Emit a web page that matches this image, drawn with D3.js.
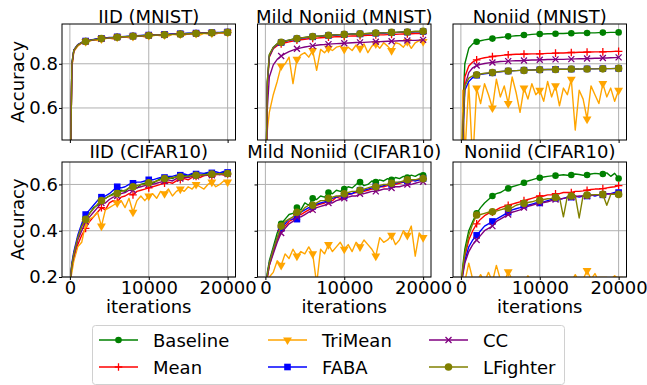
<!DOCTYPE html>
<html>
<head>
<meta charset="utf-8">
<script src="https://cdn.jsdelivr.net/npm/d3@7"></script>
<style>
  body { margin: 0; background: #fff; }
  svg { font-family: "DejaVu Sans", sans-serif; }
</style>
</head>
<body>
<script>
// x values shared by every curve
const iterations = [0, 250, 500,
  1000, 1500, 2000, 2500, 3000, 3500, 4000, 4500, 5000,
  5500, 6000, 6500, 7000, 7500, 8000, 8500, 9000, 9500, 10000,
  10500, 11000, 11500, 12000, 12500, 13000, 13500, 14000, 14500, 15000,
  15500, 16000, 16500, 17000, 17500, 18000, 18500, 19000, 19500, 20000];

const methods = ["Baseline", "Mean", "TriMean", "FABA", "CC", "LFighter"];
const titles = ["IID (MNIST)", "Mild Noniid (MNIST)", "Noniid (MNIST)",
  "IID (CIFAR10)", "Mild Noniid (CIFAR10)", "Noniid (CIFAR10)"];
const xTicks = [0, 10000, 20000];
const yTicksMnist = [0.6, 0.8];
const yTicksCifar = [0.2, 0.4, 0.6];

// ---- IID (MNIST)
const iidMnistBaseline = [0.10, 0.80, 0.862,
  0.886, 0.896, 0.902, 0.906, 0.909, 0.912, 0.914, 0.916, 0.918,
  0.919, 0.921, 0.922, 0.923, 0.924, 0.925, 0.926, 0.927, 0.928, 0.929,
  0.930, 0.931, 0.931, 0.932, 0.933, 0.934, 0.934, 0.935, 0.936, 0.937,
  0.937, 0.938, 0.938, 0.939, 0.940, 0.940, 0.941, 0.941, 0.942, 0.943];
const iidMnistMean = [0.10, 0.79, 0.858,
  0.884, 0.895, 0.901, 0.905, 0.908, 0.911, 0.913, 0.915, 0.917,
  0.918, 0.920, 0.921, 0.922, 0.923, 0.924, 0.925, 0.926, 0.927, 0.928,
  0.929, 0.930, 0.930, 0.931, 0.932, 0.933, 0.933, 0.934, 0.935, 0.936,
  0.936, 0.937, 0.937, 0.938, 0.939, 0.939, 0.940, 0.940, 0.941, 0.942];
const iidMnistTriMean = [0.10, 0.78, 0.855,
  0.880, 0.893, 0.900, 0.903, 0.908, 0.905, 0.913, 0.914, 0.916,
  0.912, 0.920, 0.919, 0.922, 0.917, 0.924, 0.923, 0.926, 0.921, 0.928,
  0.926, 0.930, 0.927, 0.931, 0.925, 0.933, 0.931, 0.934, 0.929, 0.936,
  0.933, 0.937, 0.930, 0.938, 0.935, 0.939, 0.934, 0.940, 0.937, 0.942];
const iidMnistFaba = [0.10, 0.80, 0.863,
  0.887, 0.897, 0.903, 0.907, 0.910, 0.913, 0.915, 0.917, 0.919,
  0.920, 0.922, 0.923, 0.924, 0.925, 0.926, 0.927, 0.928, 0.929, 0.930,
  0.931, 0.932, 0.932, 0.933, 0.934, 0.935, 0.935, 0.936, 0.937, 0.938,
  0.938, 0.939, 0.939, 0.940, 0.941, 0.941, 0.942, 0.942, 0.943, 0.944];
const iidMnistCc = [0.10, 0.79, 0.860,
  0.885, 0.895, 0.901, 0.905, 0.908, 0.911, 0.913, 0.915, 0.917,
  0.918, 0.920, 0.921, 0.922, 0.923, 0.924, 0.925, 0.926, 0.927, 0.928,
  0.929, 0.930, 0.931, 0.931, 0.932, 0.933, 0.934, 0.934, 0.935, 0.936,
  0.937, 0.937, 0.938, 0.938, 0.939, 0.940, 0.940, 0.941, 0.941, 0.942];
const iidMnistLfighter = [0.10, 0.80, 0.861,
  0.885, 0.896, 0.901, 0.905, 0.909, 0.911, 0.914, 0.915, 0.917,
  0.919, 0.920, 0.922, 0.922, 0.924, 0.924, 0.926, 0.926, 0.928, 0.928,
  0.929, 0.930, 0.931, 0.931, 0.932, 0.933, 0.934, 0.934, 0.935, 0.936,
  0.937, 0.937, 0.938, 0.938, 0.939, 0.940, 0.940, 0.941, 0.942, 0.942];

// ---- Mild Noniid (MNIST)
const mildMnistBaseline = [0.10, 0.72, 0.84,
  0.875, 0.890, 0.897, 0.903, 0.907, 0.911, 0.915, 0.917, 0.919,
  0.921, 0.923, 0.925, 0.926, 0.928, 0.929, 0.930, 0.931, 0.932, 0.933,
  0.934, 0.935, 0.935, 0.936, 0.936, 0.937, 0.938, 0.939, 0.940, 0.940,
  0.941, 0.942, 0.942, 0.943, 0.944, 0.944, 0.945, 0.946, 0.946, 0.947];
const mildMnistMean = [0.10, 0.70, 0.83,
  0.868, 0.882, 0.890, 0.895, 0.899, 0.903, 0.907, 0.909, 0.911,
  0.913, 0.915, 0.916, 0.918, 0.919, 0.920, 0.921, 0.923, 0.922, 0.924,
  0.925, 0.926, 0.926, 0.927, 0.928, 0.929, 0.929, 0.930, 0.931, 0.931,
  0.932, 0.933, 0.933, 0.934, 0.935, 0.935, 0.936, 0.937, 0.937, 0.938];
const mildMnistTriMean = [0.10, 0.50, 0.58,
  0.66, 0.72, 0.79, 0.80, 0.83, 0.71, 0.82, 0.84, 0.85,
  0.83, 0.86, 0.77, 0.865, 0.85, 0.87, 0.86, 0.875, 0.88, 0.865,
  0.875, 0.86, 0.885, 0.87, 0.89, 0.85, 0.88, 0.89, 0.87, 0.895,
  0.88, 0.86, 0.895, 0.89, 0.875, 0.90, 0.87, 0.895, 0.905, 0.90];
const mildMnistFaba = [0.10, 0.71, 0.835,
  0.872, 0.888, 0.896, 0.902, 0.906, 0.910, 0.913, 0.916, 0.918,
  0.920, 0.922, 0.924, 0.925, 0.927, 0.928, 0.929, 0.930, 0.931, 0.932,
  0.933, 0.934, 0.934, 0.935, 0.936, 0.936, 0.937, 0.938, 0.939, 0.939,
  0.940, 0.941, 0.941, 0.942, 0.943, 0.943, 0.944, 0.945, 0.945, 0.946];
const mildMnistCc = [0.10, 0.60, 0.74,
  0.795, 0.820, 0.835, 0.846, 0.855, 0.862, 0.868, 0.872, 0.876,
  0.879, 0.881, 0.884, 0.886, 0.887, 0.889, 0.890, 0.891, 0.892, 0.893,
  0.894, 0.895, 0.896, 0.897, 0.897, 0.898, 0.899, 0.900, 0.900, 0.901,
  0.902, 0.902, 0.903, 0.904, 0.904, 0.905, 0.906, 0.906, 0.907, 0.908];
const mildMnistLfighter = [0.10, 0.72, 0.84,
  0.874, 0.890, 0.897, 0.903, 0.907, 0.911, 0.914, 0.917, 0.919,
  0.921, 0.923, 0.924, 0.926, 0.927, 0.929, 0.930, 0.931, 0.932, 0.933,
  0.934, 0.934, 0.935, 0.936, 0.936, 0.937, 0.938, 0.939, 0.939, 0.940,
  0.941, 0.942, 0.942, 0.943, 0.944, 0.944, 0.945, 0.946, 0.946, 0.947];

// ---- Noniid (MNIST)
const noniidMnistBaseline = [0.10, 0.60, 0.80,
  0.870, 0.890, 0.900, 0.904, 0.908, 0.911, 0.914, 0.917, 0.919,
  0.921, 0.924, 0.925, 0.927, 0.928, 0.930, 0.931, 0.933, 0.934, 0.935,
  0.935, 0.936, 0.936, 0.936, 0.937, 0.937, 0.938, 0.938, 0.938, 0.939,
  0.939, 0.939, 0.940, 0.940, 0.941, 0.941, 0.941, 0.942, 0.942, 0.942];
const noniidMnistMean = [0.10, 0.55, 0.74,
  0.790, 0.808, 0.818, 0.823, 0.827, 0.830, 0.833, 0.835, 0.837,
  0.839, 0.841, 0.842, 0.843, 0.843, 0.844, 0.844, 0.845, 0.845, 0.845,
  0.846, 0.847, 0.847, 0.848, 0.849, 0.849, 0.850, 0.851, 0.851, 0.852,
  0.852, 0.853, 0.853, 0.854, 0.854, 0.854, 0.855, 0.855, 0.856, 0.856];
const noniidMnistTriMean = [0.10, 0.68, 0.38,
  0.71, 0.35, 0.69, 0.62, 0.71, 0.66, 0.60, 0.73, 0.65,
  0.70, 0.62, 0.74, 0.67, 0.58, 0.69, 0.64, 0.71, 0.66, 0.68,
  0.63, 0.72, 0.65, 0.70, 0.61, 0.69, 0.66, 0.73, 0.50, 0.68,
  0.64, 0.55, 0.70, 0.66, 0.62, 0.71, 0.65, 0.69, 0.63, 0.68];
const noniidMnistFaba = [0.10, 0.45, 0.68,
  0.720, 0.738, 0.748, 0.752, 0.755, 0.757, 0.759, 0.762, 0.764,
  0.766, 0.767, 0.768, 0.769, 0.770, 0.771, 0.772, 0.772, 0.773, 0.773,
  0.774, 0.774, 0.774, 0.775, 0.775, 0.775, 0.776, 0.776, 0.776, 0.776,
  0.777, 0.777, 0.777, 0.777, 0.778, 0.778, 0.778, 0.778, 0.779, 0.779];
const noniidMnistCc = [0.10, 0.50, 0.70,
  0.760, 0.782, 0.792, 0.797, 0.801, 0.804, 0.806, 0.808, 0.810,
  0.811, 0.812, 0.813, 0.814, 0.814, 0.815, 0.816, 0.817, 0.817, 0.818,
  0.818, 0.819, 0.819, 0.820, 0.820, 0.820, 0.821, 0.821, 0.822, 0.823,
  0.823, 0.824, 0.824, 0.825, 0.825, 0.826, 0.826, 0.827, 0.828, 0.829];
const noniidMnistLfighter = [0.10, 0.50, 0.70,
  0.735, 0.745, 0.750, 0.754, 0.757, 0.759, 0.760, 0.763, 0.765,
  0.766, 0.767, 0.768, 0.769, 0.770, 0.770, 0.771, 0.772, 0.772, 0.773,
  0.773, 0.774, 0.774, 0.774, 0.775, 0.775, 0.775, 0.776, 0.776, 0.776,
  0.776, 0.776, 0.777, 0.777, 0.777, 0.777, 0.778, 0.778, 0.778, 0.779];

// ---- IID (CIFAR10)
const iidCifarBaseline = [0.17, 0.25, 0.30,
  0.37, 0.42, 0.455, 0.475, 0.50, 0.51, 0.535, 0.54, 0.55,
  0.56, 0.565, 0.575, 0.57, 0.585, 0.595, 0.585, 0.60, 0.605, 0.61,
  0.605, 0.615, 0.625, 0.62, 0.63, 0.625, 0.635, 0.63, 0.64, 0.635,
  0.645, 0.64, 0.638, 0.645, 0.65, 0.642, 0.648, 0.645, 0.652, 0.648];
const iidCifarMean = [0.17, 0.24, 0.28,
  0.34, 0.38, 0.41, 0.44, 0.46, 0.48, 0.50, 0.49, 0.52,
  0.53, 0.525, 0.545, 0.55, 0.56, 0.555, 0.57, 0.575, 0.58, 0.585,
  0.59, 0.595, 0.60, 0.605, 0.61, 0.605, 0.615, 0.62, 0.625, 0.62,
  0.63, 0.635, 0.63, 0.638, 0.64, 0.635, 0.642, 0.645, 0.64, 0.645];
const iidCifarTriMean = [0.17, 0.22, 0.27,
  0.33, 0.35, 0.43, 0.45, 0.46, 0.48, 0.42, 0.49, 0.50,
  0.51, 0.52, 0.53, 0.50, 0.54, 0.48, 0.53, 0.55, 0.53, 0.55,
  0.56, 0.54, 0.57, 0.56, 0.58, 0.55, 0.57, 0.58, 0.57, 0.59,
  0.58, 0.60, 0.59, 0.58, 0.60, 0.61, 0.59, 0.60, 0.615, 0.61];
const iidCifarFaba = [0.17, 0.26, 0.31,
  0.38, 0.43, 0.47, 0.49, 0.51, 0.53, 0.545, 0.55, 0.56,
  0.575, 0.59, 0.585, 0.59, 0.60, 0.605, 0.61, 0.61, 0.615, 0.62,
  0.62, 0.625, 0.63, 0.63, 0.635, 0.635, 0.64, 0.64, 0.645, 0.64,
  0.648, 0.645, 0.65, 0.648, 0.652, 0.65, 0.655, 0.65, 0.656, 0.652];
const iidCifarCc = [0.17, 0.25, 0.29,
  0.36, 0.40, 0.44, 0.46, 0.48, 0.50, 0.52, 0.52, 0.535,
  0.545, 0.55, 0.56, 0.565, 0.575, 0.575, 0.585, 0.59, 0.595, 0.60,
  0.60, 0.605, 0.61, 0.615, 0.62, 0.615, 0.625, 0.625, 0.63, 0.63,
  0.635, 0.635, 0.64, 0.638, 0.642, 0.64, 0.645, 0.642, 0.646, 0.645];
const iidCifarLfighter = [0.17, 0.25, 0.30,
  0.37, 0.42, 0.449, 0.475, 0.495, 0.515, 0.53, 0.54, 0.55,
  0.555, 0.561, 0.57, 0.575, 0.585, 0.59, 0.595, 0.60, 0.60, 0.607,
  0.61, 0.615, 0.62, 0.626, 0.625, 0.63, 0.632, 0.633, 0.635, 0.636,
  0.638, 0.64, 0.64, 0.642, 0.643, 0.645, 0.644, 0.646, 0.645, 0.647];

// ---- Mild Noniid (CIFAR10)
const mildCifarBaseline = [0.15, 0.22, 0.27,
  0.33, 0.39, 0.43, 0.45, 0.47, 0.475, 0.50, 0.49, 0.52,
  0.51, 0.54, 0.535, 0.55, 0.545, 0.565, 0.56, 0.575, 0.57, 0.58,
  0.59, 0.585, 0.60, 0.61, 0.595, 0.60, 0.615, 0.61, 0.62, 0.615,
  0.625, 0.62, 0.63, 0.625, 0.635, 0.63, 0.64, 0.635, 0.645, 0.64];
const mildCifarMean = [0.15, 0.20, 0.25,
  0.31, 0.36, 0.40, 0.42, 0.44, 0.45, 0.47, 0.47, 0.48,
  0.49, 0.50, 0.51, 0.515, 0.52, 0.53, 0.53, 0.545, 0.54, 0.55,
  0.555, 0.56, 0.565, 0.57, 0.57, 0.575, 0.58, 0.585, 0.59, 0.59,
  0.595, 0.60, 0.60, 0.605, 0.61, 0.61, 0.615, 0.62, 0.62, 0.625];
const mildCifarTriMean = [0.15, 0.18, 0.20,
  0.22, 0.27, 0.25, 0.30, 0.28, 0.32, 0.29, 0.31, 0.30,
  0.33, 0.30, 0.17, 0.32, 0.30, 0.34, 0.31, 0.33, 0.35, 0.32,
  0.34, 0.31, 0.35, 0.33, 0.36, 0.34, 0.32, 0.29, 0.37, 0.35,
  0.36, 0.38, 0.34, 0.36, 0.40, 0.38, 0.42, 0.29, 0.39, 0.37];
const mildCifarFaba = [0.15, 0.21, 0.26,
  0.32, 0.37, 0.41, 0.43, 0.45, 0.45, 0.45, 0.48, 0.49,
  0.50, 0.505, 0.515, 0.52, 0.525, 0.535, 0.54, 0.545, 0.55, 0.55,
  0.56, 0.56, 0.57, 0.575, 0.575, 0.58, 0.585, 0.59, 0.59, 0.595,
  0.60, 0.60, 0.605, 0.61, 0.61, 0.615, 0.62, 0.615, 0.62, 0.625];
const mildCifarCc = [0.15, 0.20, 0.25,
  0.30, 0.35, 0.39, 0.41, 0.43, 0.44, 0.46, 0.46, 0.47,
  0.48, 0.49, 0.50, 0.505, 0.51, 0.52, 0.52, 0.53, 0.535, 0.54,
  0.545, 0.55, 0.55, 0.56, 0.56, 0.565, 0.57, 0.57, 0.575, 0.58,
  0.58, 0.585, 0.59, 0.59, 0.595, 0.60, 0.60, 0.605, 0.61, 0.612];
const mildCifarLfighter = [0.15, 0.21, 0.26,
  0.32, 0.37, 0.42, 0.44, 0.45, 0.46, 0.48, 0.48, 0.50,
  0.51, 0.51, 0.52, 0.53, 0.53, 0.54, 0.545, 0.55, 0.55, 0.56,
  0.565, 0.57, 0.57, 0.575, 0.58, 0.585, 0.59, 0.59, 0.595, 0.60,
  0.60, 0.605, 0.61, 0.61, 0.615, 0.62, 0.62, 0.62, 0.625, 0.625];

// ---- Noniid (CIFAR10)
const noniidCifarBaseline = [0.15, 0.25, 0.32,
  0.40, 0.44, 0.475, 0.50, 0.52, 0.535, 0.55, 0.56, 0.565,
  0.575, 0.583, 0.59, 0.595, 0.60, 0.607, 0.615, 0.62, 0.625, 0.629,
  0.632, 0.635, 0.637, 0.638, 0.64, 0.642, 0.64, 0.641, 0.645, 0.643,
  0.64, 0.641, 0.645, 0.648, 0.646, 0.645, 0.65, 0.635, 0.648, 0.626];
const noniidCifarMean = [0.15, 0.23, 0.29,
  0.36, 0.40, 0.43, 0.45, 0.465, 0.475, 0.48, 0.49, 0.50,
  0.505, 0.51, 0.515, 0.52, 0.525, 0.53, 0.535, 0.54, 0.545, 0.55,
  0.55, 0.555, 0.555, 0.56, 0.56, 0.565, 0.565, 0.565, 0.57, 0.57,
  0.572, 0.575, 0.578, 0.58, 0.58, 0.582, 0.585, 0.588, 0.59, 0.595];
const noniidCifarTriMean = [0.10, 0.15, 0.18,
  0.26, 0.19, 0.18, 0.21, 0.18, 0.22, 0.18, 0.25, 0.19,
  0.18, 0.222, 0.19, 0.18, 0.19, 0.18, 0.205, 0.18, 0.19, 0.18,
  0.19, 0.18, 0.19, 0.18, 0.19, 0.18, 0.19, 0.18, 0.21, 0.18,
  0.19, 0.228, 0.19, 0.215, 0.18, 0.19, 0.18, 0.19, 0.205, 0.19];
const noniidCifarFaba = [0.15, 0.22, 0.27,
  0.33, 0.36, 0.38, 0.40, 0.42, 0.43, 0.44, 0.45, 0.46,
  0.47, 0.48, 0.49, 0.495, 0.50, 0.51, 0.51, 0.515, 0.52, 0.52,
  0.525, 0.53, 0.535, 0.54, 0.535, 0.54, 0.545, 0.545, 0.55, 0.545,
  0.55, 0.55, 0.555, 0.55, 0.555, 0.555, 0.56, 0.56, 0.565, 0.565];
const noniidCifarCc = [0.15, 0.21, 0.26,
  0.31, 0.34, 0.36, 0.38, 0.40, 0.41, 0.42, 0.44, 0.45,
  0.46, 0.47, 0.48, 0.485, 0.49, 0.50, 0.505, 0.51, 0.515, 0.52,
  0.522, 0.525, 0.53, 0.535, 0.537, 0.54, 0.542, 0.545, 0.547, 0.55,
  0.55, 0.55, 0.552, 0.555, 0.555, 0.557, 0.558, 0.56, 0.56, 0.56];
const noniidCifarLfighter = [0.15, 0.24, 0.30,
  0.38, 0.43, 0.468, 0.47, 0.475, 0.48, 0.482, 0.485, 0.49,
  0.495, 0.497, 0.50, 0.51, 0.515, 0.518, 0.522, 0.525, 0.53, 0.532,
  0.535, 0.538, 0.54, 0.544, 0.545, 0.46, 0.548, 0.55, 0.552, 0.455,
  0.553, 0.554, 0.555, 0.556, 0.556, 0.557, 0.51, 0.557, 0.558, 0.557];

const panelSeries = [
  [iidMnistBaseline, iidMnistMean, iidMnistTriMean, iidMnistFaba, iidMnistCc, iidMnistLfighter],
  [mildMnistBaseline, mildMnistMean, mildMnistTriMean, mildMnistFaba, mildMnistCc, mildMnistLfighter],
  [noniidMnistBaseline, noniidMnistMean, noniidMnistTriMean, noniidMnistFaba, noniidMnistCc, noniidMnistLfighter],
  [iidCifarBaseline, iidCifarMean, iidCifarTriMean, iidCifarFaba, iidCifarCc, iidCifarLfighter],
  [mildCifarBaseline, mildCifarMean, mildCifarTriMean, mildCifarFaba, mildCifarCc, mildCifarLfighter],
  [noniidCifarBaseline, noniidCifarMean, noniidCifarTriMean, noniidCifarFaba, noniidCifarCc, noniidCifarLfighter]
];
panelSeries.forEach((p, i) => p.forEach((s, j) => {
  if (s.length !== iterations.length) throw new Error(`bad length ${titles[i]} ${methods[j]}: ${s.length}`);
}));

const colors = ["green", "red", "orange", "blue", "purple", "olive"];
const shapes = ["circle", "plus", "triDown", "square", "cross", "bigCircle"];

const W = 647, H = 385;
const lefts = [62, 257.5, 453];
const tops = [24, 162];
const pw = 173.5;
const ph = [116, 115];
const FONT = 18;

const svg = d3.select("body").append("svg")
  .attr("width", W).attr("height", H);

function drawMarker(g, shape, color, cx, cy) {
  if (shape === "circle" || shape === "bigCircle") {
    g.append("circle").attr("cx", cx).attr("cy", cy)
      .attr("r", shape === "circle" ? 3.3 : 3.8).attr("fill", color);
  } else if (shape === "square") {
    g.append("rect").attr("x", cx - 3.3).attr("y", cy - 3.3)
      .attr("width", 6.6).attr("height", 6.6).attr("fill", color);
  } else if (shape === "triDown") {
    g.append("path").attr("transform", `translate(${cx},${cy}) rotate(180)`)
      .attr("d", d3.symbol(d3.symbolTriangle, 34)()).attr("fill", color);
  } else if (shape === "plus") {
    g.append("path").attr("d", `M${cx - 3.8},${cy}H${cx + 3.8}M${cx},${cy - 3.8}V${cy + 3.8}`)
      .attr("stroke", color).attr("stroke-width", 1.3).attr("fill", "none");
  } else if (shape === "cross") {
    g.append("path").attr("d", `M${cx - 3},${cy - 3}L${cx + 3},${cy + 3}M${cx - 3},${cy + 3}L${cx + 3},${cy - 3}`)
      .attr("stroke", color).attr("stroke-width", 1.3).attr("fill", "none");
  }
}

panelSeries.forEach((series, idx) => {
  const row = Math.floor(idx / 3), col = idx % 3;
  const h = ph[row];
  const g = svg.append("g").attr("transform", `translate(${lefts[col]},${tops[row]})`);
  const x = d3.scaleLinear().domain([-1000, 21000]).range([0, pw]);
  const y = d3.scaleLinear().domain(row === 0 ? [0.455, 0.98] : [0.2, 0.697]).range([h, 0]);
  const yTicks = row === 0 ? yTicksMnist : yTicksCifar;

  // grid
  g.append("g").selectAll("line").data(xTicks).join("line")
    .attr("x1", d => x(d)).attr("x2", d => x(d)).attr("y1", 0).attr("y2", h)
    .attr("stroke", "#b0b0b0").attr("stroke-width", 1);
  g.append("g").selectAll("line").data(yTicks).join("line")
    .attr("x1", 0).attr("x2", pw).attr("y1", d => y(d)).attr("y2", d => y(d))
    .attr("stroke", "#b0b0b0").attr("stroke-width", 1);

  const clipId = "clip" + idx;
  g.append("clipPath").attr("id", clipId).append("rect")
    .attr("width", pw).attr("height", h);
  const plot = g.append("g").attr("clip-path", `url(#${clipId})`);

  const line = d3.line().x((d, i) => x(iterations[i])).y(d => y(d));
  series.forEach((s, j) => {
    plot.append("path").datum(s).attr("d", line)
      .attr("fill", "none").attr("stroke", colors[j]).attr("stroke-width", 1.4)
      .attr("stroke-linejoin", "round");
    const mg = plot.append("g");
    s.forEach((v, i) => {
      const it = iterations[i];
      if (it > 0 && it % 2000 === 0) drawMarker(mg, shapes[j], colors[j], x(it), y(v));
    });
  });

  // spines
  g.append("rect").attr("width", pw).attr("height", h)
    .attr("fill", "none").attr("stroke", "#000").attr("stroke-width", 1);

  const ya = g.append("g").call(d3.axisLeft(y).tickValues(yTicks).tickSize(3).tickPadding(1)
    .tickFormat(col === 0 ? d3.format(".1f") : () => ""));
  const xa = g.append("g").attr("transform", `translate(0,${h})`)
    .call(d3.axisBottom(x).tickValues(xTicks).tickSize(3).tickPadding(1)
      .tickFormat(row === 1 ? d3.format("d") : () => ""));
  [ya, xa].forEach(a => {
    a.select(".domain").remove();
    a.attr("font-family", null).attr("font-size", FONT);
    a.selectAll("text").attr("fill", "#000");
  });

  g.append("text").attr("x", pw / 2).attr("y", row === 0 ? -1.5 : -4.5)
    .attr("text-anchor", "middle").attr("font-size", FONT).text(titles[idx]);

  if (col === 0) {
    svg.append("text")
      .attr("transform", `translate(23.5,${tops[row] + h / 2}) rotate(-90)`)
      .attr("text-anchor", "middle").attr("font-size", FONT).text("Accuracy");
  }
  if (row === 1) {
    svg.append("text").attr("x", lefts[col] + pw / 2).attr("y", 313)
      .attr("text-anchor", "middle").attr("font-size", FONT).text("iterations");
  }
});

// legend
const legend = svg.append("g");
legend.append("rect").attr("x", 92.5).attr("y", 325.5).attr("width", 472).attr("height", 59)
  .attr("rx", 3).attr("fill", "#fff").attr("fill-opacity", 0.8)
  .attr("stroke", "#d0d0d0").attr("stroke-width", 1);
const legCols = [99, 268, 429];
const legRows = [340, 367];
methods.forEach((m, j) => {
  const c = Math.floor(j / 2), r = j % 2;
  const lx = legCols[c], ly = legRows[r];
  legend.append("line").attr("x1", lx).attr("x2", lx + 39).attr("y1", ly).attr("y2", ly)
    .attr("stroke", colors[j]).attr("stroke-width", 1.4);
  drawMarker(legend, shapes[j], colors[j], lx + 19.5, ly);
  legend.append("text").attr("x", lx + 54).attr("y", ly + 6.5)
    .attr("font-size", FONT).text(m);
});
</script>
</body>
</html>
